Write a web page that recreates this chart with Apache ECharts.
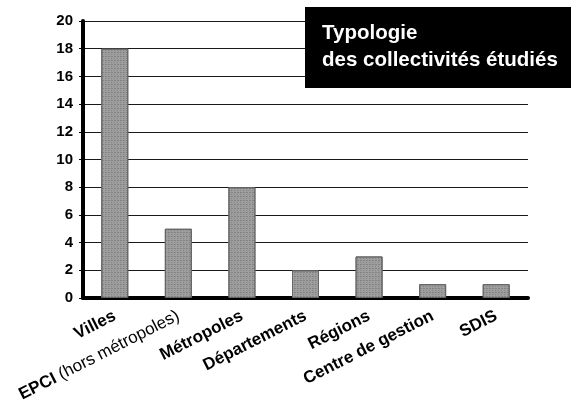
<!DOCTYPE html>
<html>
<head>
<meta charset="utf-8">
<script src="https://cdn.jsdelivr.net/npm/echarts@6/dist/echarts.min.js"></script>
<style>
  html, body { margin: 0; padding: 0; background: #fff; }
  #main { width: 571px; height: 409px; }
</style>
</head>
<body>
<div id="main"></div>
<script>
var categories = ['Villes', 'EPCI (hors métropoles)', 'Métropoles', 'Départements', 'Régions', 'Centre de gestion', 'SDIS'];
var values = [18, 5, 8, 2, 3, 1, 1];
var yTicks = [0, 2, 4, 6, 8, 10, 12, 14, 16, 18, 20];
var titleLines = ['Typologie', 'des collectivités étudiés'];

var font = 'Liberation Sans, Arial, sans-serif';

var option = {
    backgroundColor: '#fff',
    animation: false,
    title: {
        text: titleLines.join('\n'),
        left: 305,
        top: 7,
        backgroundColor: '#000',
        padding: [13, 14, 14, 17],
        z: 10,
        textStyle: {
            color: '#fff',
            fontFamily: font,
            fontWeight: 'bold',
            fontSize: 20.5,
            lineHeight: 27
        }
    },
    grid: {
        left: 83,
        right: 43,
        top: 21,
        bottom: 111
    },
    xAxis: {
        type: 'category',
        data: categories,
        axisLine: { show: true, lineStyle: { color: '#000', width: 4 } },
        axisTick: { show: false },
        axisLabel: {
            interval: 0,
            rotate: 27,
            margin: 17,
            color: '#000',
            fontFamily: font,
            fontWeight: 'bold',
            fontSize: 17,
            formatter: function (v) {
                if (v.indexOf('EPCI') === 0) {
                    return '{b|EPCI}{n|' + v.slice(4) + '}';
                }
                return v;
            },
            rich: {
                b: { fontWeight: 'bold', fontSize: 17, color: '#000', fontFamily: font },
                n: { fontWeight: 'normal', fontSize: 17, color: '#000', fontFamily: font }
            }
        }
    },
    yAxis: {
        type: 'value',
        min: yTicks[0],
        max: yTicks[yTicks.length - 1],
        interval: 2,
        axisLine: { show: true, lineStyle: { color: '#000', width: 4 } },
        axisTick: { show: true, length: 4, lineStyle: { color: '#000', width: 1 } },
        splitLine: { show: true, lineStyle: { color: '#1a1a1a', width: 1.2 } },
        axisLabel: {
            margin: 10,
            color: '#000',
            fontFamily: font,
            fontWeight: 'bold',
            fontSize: 15
        }
    },
    series: [{
        type: 'bar',
        data: values,
        barWidth: 27,
        itemStyle: {
            color: '#9e9e9e',
            borderColor: '#666',
            borderWidth: 1,
            decal: {
                symbol: 'rect',
                symbolSize: 0.7,
                color: 'rgba(30,30,30,0.6)',
                dashArrayX: [[1, 2], [2, 1]],
                dashArrayY: [1, 1],
                rotation: 0
            }
        }
    }]
};

echarts.init(document.getElementById('main')).setOption(option);
</script>
</body>
</html>
